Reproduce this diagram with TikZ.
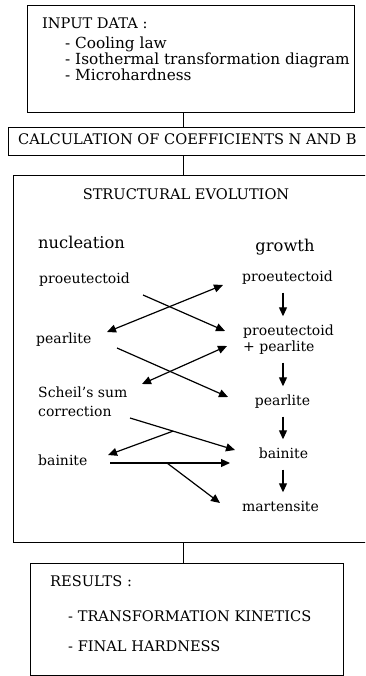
\documentclass[tikz,border=0pt]{standalone}
\usepackage{fontspec}
\setmainfont{DejaVu Serif}
\usetikzlibrary{arrows.meta, calc}

\tikzset{
    box/.style   = {draw, line width=1pt, inner sep=0pt, anchor=north west},
    txt/.style   = {inner sep=0pt, anchor=west, text height=10pt, text depth=3pt,
                    font=\fontsize{14}{16}\selectfont},
    caps/.style  = {txt, font=\fontsize{14.6}{16}\selectfont},
    head/.style  = {txt, font=\fontsize{16.3}{18}\selectfont},
    arr/.style   = {-{Triangle[length=9pt,width=8pt]}, line width=1.2pt},
    dbl/.style   = {{Triangle[length=9pt,width=8pt]}-{Triangle[length=9pt,width=8pt]}, line width=1.2pt},
    down/.style  = {arr, shorten <=8pt, shorten >=9pt},
}

\begin{document}
\begin{tikzpicture}[x=1pt, y=-1pt]
    \clip (0,0) rectangle (365,676);
    \coordinate (stem) at (183,0);
    \coordinate (gcol) at (283,0);

    % boxes
    \node[box, minimum width=327pt, minimum height=107pt] (input) at (27,5) {};
    \node[box, minimum width=370pt, minimum height=28pt]  (calc)  at (8,127) {};
    \node[box, minimum width=370pt, minimum height=367pt] (evol)  at (13,175) {};
    \node[box, minimum width=313pt, minimum height=112pt] (res)   at (30,563) {};

    \draw[line width=1pt] (input.south -| stem) -- (calc.north -| stem);
    \draw[line width=1pt] (calc.south -| stem) -- (evol.north -| stem);
    \draw[line width=1pt] (evol.south -| stem) -- (res.north -| stem);

    % input data
    \node[caps] (intitle) at (42,25) {INPUT DATA :};
    \node[txt, font=\fontsize{15.3}{16}\selectfont] (incool) at (65,45) {- Cooling law};
    \node[txt, font=\fontsize{15.3}{16}\selectfont] (initd)  at (65,61) {- Isothermal transformation diagram};
    \node[txt, font=\fontsize{15.3}{16}\selectfont] (inhard) at (65,77) {- Microhardness};

    \node[caps] (calctxt) at (18,141) {CALCULATION OF COEFFICIENTS N AND B};

    % structural evolution
    \node[caps, anchor=center] (evtitle) at (186,196) {STRUCTURAL EVOLUTION};
    \node[head] (nuc) at (38,245) {nucleation};
    \node[head, anchor=center] (gro) at (285,248) {growth};

    \node[txt] (nproe) at (39,280) {proeutectoid};
    \node[txt] (npear) at (36,340) {pearlite};
    \node[txt] (nsch)  at (38,394) {Scheil's sum};
    \node[txt] (nschb) at (38,413) {correction};
    \node[txt] (nbain) at (38,462) {bainite};

    \node[txt, anchor=center] (gproe) at (287.5,278) {proeutectoid};
    \node[txt] (gpp)   at (243,332) {proeutectoid};
    \node[txt] (gppb)  at (243,348) {+ pearlite};
    \node[txt, anchor=center] (gpear) at (282.5,402) {pearlite};
    \node[txt, anchor=center] (gbain) at (283.5,455) {bainite};
    \node[txt, anchor=center] (gmart) at (280.5,508) {martensite};

    \draw[down] (gproe.south -| gcol) -- (gpp.north -| gcol);
    \draw[down] (gppb.south -| gcol) -- (gpear.north -| gcol);
    \draw[down] (gpear.south -| gcol) -- (gbain.north -| gcol);
    \draw[down] (gbain.south -| gcol) -- (gmart.north -| gcol);

    % nucleation -> growth
    \coordinate (proeA)  at (143,295);
    \coordinate (ppA)    at (225,331);
    \coordinate (proeB)  at (223,285);
    \coordinate (pearB)  at (107,332);
    \coordinate (pearA)  at (117,348);
    \coordinate (gpearA) at (228,397);
    \coordinate (ppB)    at (227,346);
    \coordinate (schB)   at (142,384);
    \coordinate (schA)   at (130,418);
    \coordinate (gbainA) at (235,450);
    \coordinate (nbainB) at (108,455);
    \coordinate (bainA)  at (110,463);
    \coordinate (gbainB) at (230,463);
    \coordinate (gmartA) at (220,503);

    \draw[arr] (proeA) -- (ppA);
    \draw[dbl] (pearB) -- (proeB);
    \draw[arr] (pearA) -- (gpearA);
    \draw[dbl] (schB) -- (ppB);
    \draw[arr] (schA) -- (gbainA);
    \draw[arr] ($(schA)!0.41!(gbainA)$) -- (nbainB);
    \draw[arr] (bainA) -- (gbainB);
    \draw[arr] ($(bainA)!0.475!(gbainB)$) -- (gmartA);

    % results
    \node[caps] (rtitle) at (50,583) {RESULTS :};
    \node[caps] (rkin)   at (68,618) {- TRANSFORMATION KINETICS};
    \node[caps] (rhard)  at (68,648) {- FINAL HARDNESS};
\end{tikzpicture}
\end{document}
